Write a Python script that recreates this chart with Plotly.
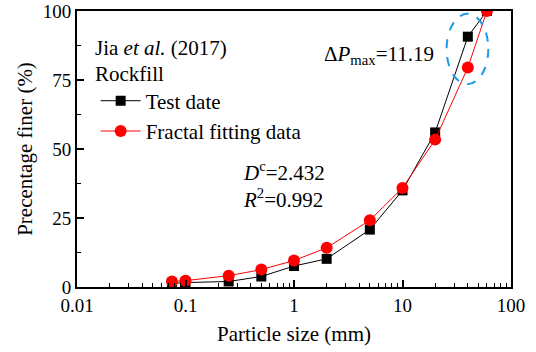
import plotly.graph_objects as go

particle_size = [0.075, 0.1, 0.25, 0.5, 1, 2, 5, 10, 20, 40, 60]
test_data = [1.3, 1.6, 2.0, 3.8, 7.6, 10.2, 20.8, 35.0, 56.0, 90.7, 100]
fractal_data = [2.0, 2.3, 4.1, 6.3, 9.6, 14.2, 24.2, 35.9, 53.4, 79.5, 100]

x_tickvals = [0.01, 0.1, 1, 10, 100]
x_ticktext = ["0.01", "0.1", "1", "10", "100"]
y_tickvals = [0, 25, 50, 75, 100]

FONT = "Liberation Serif"

minor_x = [m * 10.0 ** e for e in range(-2, 2) for m in range(2, 10)]

fig = go.Figure()
fig.add_trace(go.Scatter(
    x=particle_size, y=test_data, mode="lines+markers", name="Test date",
    line=dict(color="black", width=1),
    marker=dict(symbol="square", size=10, color="black"),
))
fig.add_trace(go.Scatter(
    x=particle_size, y=fractal_data, mode="lines+markers", name="Fractal fitting data",
    line=dict(color="#ff0000", width=1),
    marker=dict(symbol="circle", size=12, color="#ff0000"),
))

# dashed ellipse around max deviation
fig.add_shape(type="circle", xref="x", yref="y",
              x0=25.5, x1=61.8, y0=73.5, y1=99,
              line=dict(color="#1e9be6", width=2, dash="dash"))

ann_font = dict(family=FONT, size=21, color="black")
fig.add_annotation(x=0.036, y=0.865, xref="paper", yref="paper", xanchor="left", yanchor="middle",
                   text="Jia <i>et al.</i> (2017)", showarrow=False, font=ann_font)
fig.add_annotation(x=0.036, y=0.77, xref="paper", yref="paper", xanchor="left", yanchor="middle",
                   text="Rockfill", showarrow=False, font=ann_font)
fig.add_annotation(x=0.565, y=0.84, xref="paper", yref="paper", xanchor="left", yanchor="middle",
                   text="Δ<i>P</i><sub>max</sub>=11.19", showarrow=False, font=ann_font)
fig.add_annotation(x=0.378, y=0.42, xref="paper", yref="paper", xanchor="left", yanchor="middle",
                   text="<i>D</i><sup>c</sup>=2.432", showarrow=False, font=ann_font)
fig.add_annotation(x=0.378, y=0.32, xref="paper", yref="paper", xanchor="left", yanchor="middle",
                   text="<i>R</i><sup>2</sup>=0.992", showarrow=False, font=ann_font)

fig.update_layout(
    width=536, height=352,
    margin=dict(l=77, r=25, t=11, b=65),
    paper_bgcolor="white", plot_bgcolor="white",
    font=dict(family=FONT, size=19, color="black"),
    showlegend=True,
    legend=dict(x=0.043, y=0.748, xanchor="left", yanchor="top",
                bgcolor="rgba(0,0,0,0)", font=dict(family=FONT, size=21),
                tracegroupgap=0, itemwidth=40),
    xaxis=dict(
        type="log", range=[-2, 2], automargin=False,
        tickvals=x_tickvals, ticktext=x_ticktext,
        ticks="inside", ticklen=7, tickwidth=1.5, tickcolor="black",
        minor=dict(tickvals=minor_x, ticks="inside", ticklen=4, tickwidth=1.2, tickcolor="black"),
        showline=True, linecolor="black", linewidth=2, mirror=True,
        showgrid=False, zeroline=False,
        title=dict(text="Particle size (mm)", font=dict(family=FONT, size=21), standoff=12),
        tickfont=dict(family=FONT, size=19),
    ),
    yaxis=dict(
        range=[0, 100], automargin=False,
        tickvals=y_tickvals,
        ticks="inside", ticklen=7, tickwidth=1.5, tickcolor="black",
        minor=dict(dtick=12.5, ticks="inside", ticklen=4, tickwidth=1.2, tickcolor="black"),
        showline=True, linecolor="black", linewidth=2, mirror=True,
        showgrid=False, zeroline=False,
        title=dict(text="Precentage finer (%)", font=dict(family=FONT, size=21), standoff=4),
        tickfont=dict(family=FONT, size=19),
    ),
)

fig.write_html("out.html")
